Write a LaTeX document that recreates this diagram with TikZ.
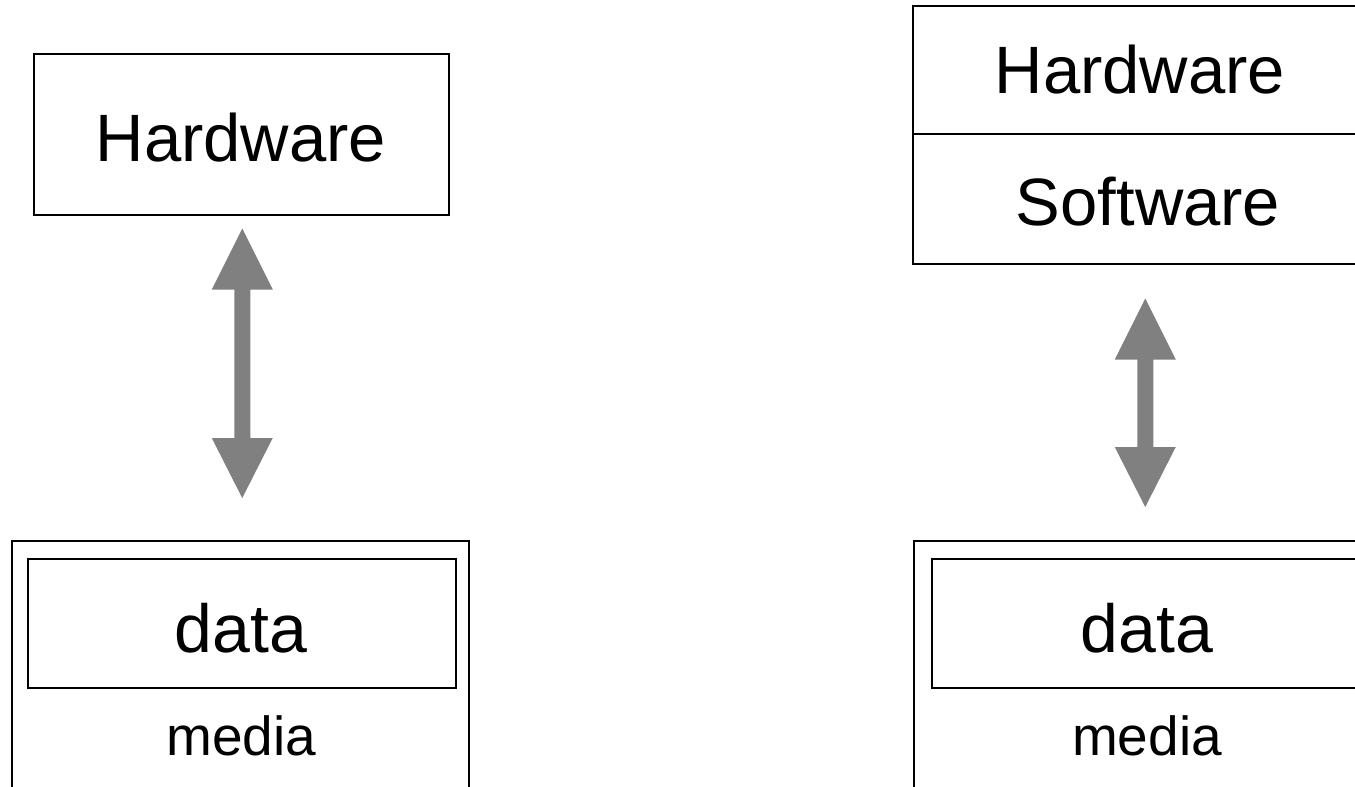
\documentclass[tikz,border=0pt]{standalone}
\usepackage{fontspec}
\setmainfont{Liberation Sans}
\usetikzlibrary{calc}
\definecolor{arrowgray}{HTML}{808080}
\tikzset{
  box/.style={draw=black, line width=1.5pt, rectangle, inner sep=0pt},
  bigtxt/.style={font=\fontsize{67}{80}\selectfont, inner sep=0pt, anchor=base},
  datatxt/.style={font=\fontsize{68}{80}\selectfont, inner sep=0pt, anchor=base},
  mediatxt/.style={font=\fontsize{55}{66}\selectfont, inner sep=0pt, anchor=base},
  arrowfill/.style={fill=arrowgray}
}
\newcommand\dblarrow[2]{%
  \fill[arrowfill] let \p1=(#1), \p2=(#2) in
    (\x1,\y1) -- (\x1+30.5pt,\y1-61pt) -- (\x1+8pt,\y1-61pt) --
    (\x2+8pt,\y2+60pt) -- (\x2+30.5pt,\y2+60pt) -- (\x2,\y2) --
    (\x2-30.5pt,\y2+60pt) -- (\x2-8pt,\y2+60pt) --
    (\x1-8pt,\y1-61pt) -- (\x1-30.5pt,\y1-61pt) -- cycle;}
\begin{document}
\begin{tikzpicture}[x=1pt,y=-1pt]
\useasboundingbox (0,0) rectangle (1355,787);
\clip (0,0) rectangle (1355,787);
\fill[white] (0,0) rectangle (1355,787);

% left column
\node[box, minimum width=415, minimum height=161, anchor=north west] (hw1) at (33,53) {};
\node[bigtxt] (hw1t) at (241,161) {Hardware};
\node[box, minimum width=457, minimum height=300, anchor=north west] (media1) at (11,540) {};
\node[box, minimum width=428, minimum height=129, anchor=north west] (data1) at (27,558) {};
\node[datatxt] (data1t) at (241,652) {data};
\node[mediatxt] (media1t) at (241.5,755) {media};
\dblarrow{$(hw1.south)+(1,13)$}{$(media1.north)+(2,-42)$}

% right column
\node[box, minimum width=470, minimum height=128, anchor=north west] (hw2) at (912,5) {};
\node[box, minimum width=470, minimum height=130, anchor=north west] (sw2) at (912,133) {};
\node[bigtxt] (hw2t) at (1140,93) {Hardware};
\node[bigtxt] (sw2t) at (1148,225) {Software};
\node[box, minimum width=468, minimum height=300, anchor=north west] (media2) at (913,540) {};
\node[box, minimum width=437, minimum height=129, anchor=north west] (data2) at (931,558) {};
\node[datatxt] (data2t) at (1147,652) {data};
\node[mediatxt] (media2t) at (1147,755) {media};
\dblarrow{$(sw2.south)+(-2.5,34)$}{$(media2.north)+(-2.5,-33)$}
\end{tikzpicture}
\end{document}
